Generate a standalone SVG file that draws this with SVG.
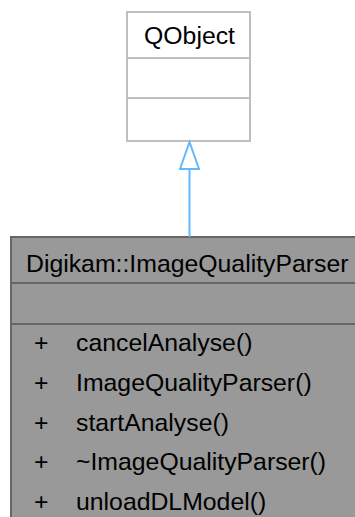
<svg xmlns="http://www.w3.org/2000/svg" width="355" height="517" viewBox="0 0 355 517">
<style>
text{font-family:"Liberation Sans",Arial,sans-serif;font-size:24.8px;fill:#000}
.c{text-anchor:middle}
.g{stroke:#bfbfbf;stroke-width:2}
.d{stroke:#666;stroke-width:2}
</style>
<rect width="355" height="517" fill="#fff"/>
<g id="node-qobject">
<rect class="g" x="127" y="12" width="123" height="129" fill="#fff"/>
<line class="g" x1="127" y1="58" x2="250" y2="58"/>
<line class="g" x1="127" y1="98" x2="250" y2="98"/>
<text class="c" x="189.5" y="44">QObject</text>
</g>
<g id="node-parser">
<rect class="d" x="11" y="237" width="360" height="300" fill="#999"/>
<line class="d" x1="11" y1="283" x2="371" y2="283"/>
<line class="d" x1="11" y1="324" x2="371" y2="324"/>
<text x="26" y="272">Digikam::ImageQualityParser</text>
<text x="34" y="351">+</text><text x="76" y="351">cancelAnalyse()</text>
<text x="34" y="391">+</text><text x="76" y="391">ImageQualityParser()</text>
<text x="34" y="430.5">+</text><text x="76" y="430.5">startAnalyse()</text>
<text x="34" y="470">+</text><text x="76" y="470">~ImageQualityParser()</text>
<text x="34" y="510">+</text><text x="76" y="510">unloadDLModel()</text>
</g>
<g id="connectors">
<line x1="189.5" y1="169" x2="189.5" y2="237" stroke="#63b8ff" stroke-width="2"/>
<polygon points="189.5,142 180,169 199,169" fill="#fff" stroke="#63b8ff" stroke-width="2"/>
</g>
</svg>
